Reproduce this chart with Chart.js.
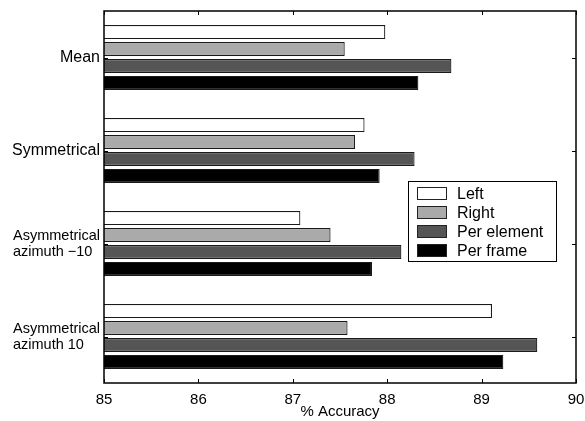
<!DOCTYPE html>
<html>
<head>
<meta charset="utf-8">
<script src="https://cdn.jsdelivr.net/npm/chart.js@4.4.1/dist/chart.umd.min.js"></script>
<style>
  html, body { margin: 0; padding: 0; background: #fff; }
  #wrap { width: 585px; height: 421px; position: relative; }
</style>
</head>
<body>
<div id="wrap"><canvas id="mainChart"></canvas></div>
<script>
const categories = ['Mean', 'Symmetrical', ['Asymmetrical', 'azimuth \u221210'], ['Asymmetrical', 'azimuth 10']];
const leftVals = [87.98, 87.76, 87.08, 89.11];
const rightVals = [87.55, 87.66, 87.40, 87.58];
const perElement = [88.68, 88.29, 88.15, 89.59];
const perFrame = [88.33, 87.92, 87.84, 89.23];
const xTicks = [85, 86, 87, 88, 89, 90];

const FONT = 'Liberation Sans, Arial, Helvetica, sans-serif';

// caja del gráfico + marcas hacia dentro, etiquetas de categoría y leyenda
const framePlugin = {
    id: 'frame',
    afterDatasetsDraw(chart) {
        const { ctx, chartArea: a, scales } = chart;
        ctx.save();
        ctx.strokeStyle = '#000';
        ctx.lineWidth = 1;
        ctx.beginPath();
        xTicks.forEach(v => {
            const x = Math.round(scales.x.getPixelForValue(v)) + 0.5;
            ctx.moveTo(x, a.bottom); ctx.lineTo(x, a.bottom - 4);
            ctx.moveTo(x, a.top); ctx.lineTo(x, a.top + 4);
        });
        categories.forEach((c, i) => {
            const y = Math.round(scales.y.getPixelForValue(i)) + 0.5;
            ctx.moveTo(a.left, y); ctx.lineTo(a.left + 4, y);
            ctx.moveTo(a.right, y); ctx.lineTo(a.right - 4, y);
        });
        ctx.stroke();
        ctx.lineWidth = 1.5;
        ctx.strokeRect(a.left, a.top, a.right - a.left, a.bottom - a.top);

        // etiquetas del eje y
        ctx.fillStyle = '#000';
        ctx.textBaseline = 'middle';
        categories.forEach((c, i) => {
            const y = scales.y.getPixelForValue(i);
            if (Array.isArray(c)) {
                ctx.font = '14.5px ' + FONT;
                const w = Math.max(...c.map(t => ctx.measureText(t).width));
                ctx.textAlign = 'left';
                c.forEach((t, k) => ctx.fillText(t, a.left - 4 - w, y + (k - (c.length - 1) / 2) * 16));
            } else {
                ctx.font = '16px ' + FONT;
                ctx.textAlign = 'right';
                ctx.fillText(c, a.left - 4, y);
            }
        });

        // leyenda
        const bx = 408, by = 181, bw = 148, bh = 80;
        ctx.fillStyle = '#fff';
        ctx.fillRect(bx, by, bw, bh);
        ctx.lineWidth = 1;
        ctx.strokeStyle = '#000';
        ctx.strokeRect(bx + 0.5, by + 0.5, bw, bh);
        ctx.font = '16px ' + FONT;
        ctx.textAlign = 'left';
        chart.data.datasets.forEach((ds, i) => {
            const cy = by + 12.5 + i * 19;
            ctx.fillStyle = ds.backgroundColor;
            ctx.fillRect(417, cy - 6.5, 30, 13);
            ctx.strokeStyle = '#222';
            ctx.strokeRect(417.5, cy - 6, 29, 12);
            ctx.fillStyle = '#000';
            ctx.fillText(ds.label, 457, cy + 1);
        });
        ctx.restore();
    }
};

const mk = (label, data, color) => ({
    label, data,
    backgroundColor: color,
    borderColor: '#1a1a1a',
    borderWidth: 1.2,
    borderSkipped: false,
    categoryPercentage: 0.73,
    barPercentage: 0.83
});

new Chart(document.getElementById('mainChart'), {
    type: 'bar',
    data: {
        labels: categories,
        datasets: [
            mk('Left', leftVals, '#ffffff'),
            mk('Right', rightVals, '#aaaaaa'),
            mk('Per element', perElement, '#555555'),
            mk('Per frame', perFrame, '#000000')
        ]
    },
    options: {
        indexAxis: 'y',
        responsive: true,
        maintainAspectRatio: false,
        animation: false,
        layout: { padding: { left: 0, right: 9, top: 11, bottom: 0 } },
        plugins: { legend: { display: false }, tooltip: { enabled: false } },
        scales: {
            x: {
                min: 85, max: 90,
                afterBuildTicks: s => { s.ticks = xTicks.map(v => ({ value: v })); },
                afterFit: s => { s.height = 38; s.paddingLeft = 0; s.paddingRight = 0; },
                grid: { display: false, drawTicks: false },
                border: { display: false },
                ticks: { color: '#000', padding: 8, font: { family: FONT, size: 15 } },
                title: { display: true, text: '% Accuracy', color: '#000', padding: 0, font: { family: FONT, size: 15 } }
            },
            y: {
                afterFit: s => { s.width = 104; s.paddingTop = 0; s.paddingBottom = 0; },
                grid: { display: false, drawTicks: false },
                border: { display: false },
                ticks: { display: false }
            }
        }
    },
    plugins: [framePlugin]
});
</script>
</body>
</html>
